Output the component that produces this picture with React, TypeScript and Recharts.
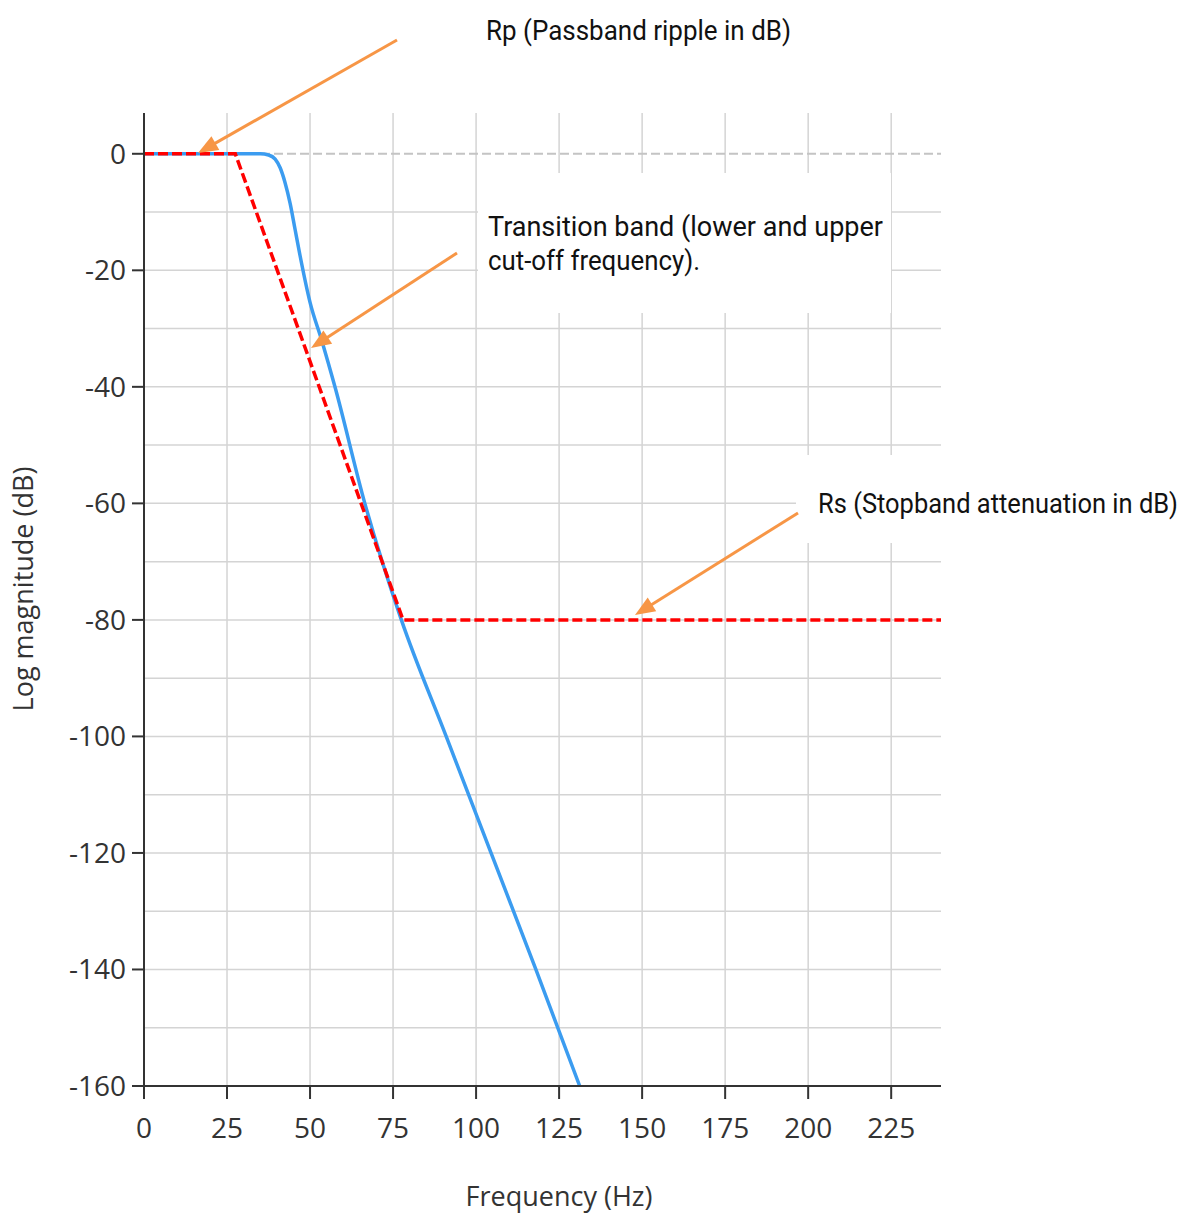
import React from 'react';
import { LineChart, Line, XAxis, YAxis, ReferenceLine } from 'recharts';

// ---- data ----
const frequencyTicks = [0, 25, 50, 75, 100, 125, 150, 175, 200, 225];
const magnitudeTicks = [0, -20, -40, -60, -80, -100, -120, -140, -160];
const minorGridValues = [-10, -20, -30, -40, -50, -60, -70, -80, -90, -100, -110, -120, -130, -140, -150];

// filter response (blue)
const responseFreq = [0, 30, 35, 37.5, 39.5, 41, 42.5, 44, 45.5, 47, 50, 53.5, 57.5, 66.5, 77.5, 91, 104.5, 118, 131.2];
const responseMag = [0, 0, 0, -0.2, -0.9, -2.4, -5, -8.5, -13, -17.5, -25.5, -32, -40, -60, -80, -100, -120, -140, -160];

// specification mask (red dashed)
const specFreq = [0, 27.5, 78, 240];
const specMag = [0, 0, -80, -80];

const responseData = responseFreq.map((f, i) => ({ f, db: responseMag[i] }));
const specData = specFreq.map((f, i) => ({ f, db: specMag[i] }));

const ORANGE = '#F79646';
const CONDENSE = 0.91;

function Arrow({ x1, y1, x2, y2 }: { x1: number; y1: number; x2: number; y2: number }) {
  const dx = x2 - x1;
  const dy = y2 - y1;
  const len = Math.sqrt(dx * dx + dy * dy);
  const ux = dx / len;
  const uy = dy / len;
  const headLen = 20;
  const headHalf = 8;
  const bx = x2 - ux * headLen;
  const by = y2 - uy * headLen;
  const px = -uy;
  const py = ux;
  const pts = `${x2},${y2} ${bx + px * headHalf},${by + py * headHalf} ${bx - px * headHalf},${by - py * headHalf}`;
  return (
    <g>
      <line x1={x1} y1={y1} x2={bx + ux * 2} y2={by + uy * 2} stroke={ORANGE} strokeWidth={3} />
      <polygon points={pts} fill={ORANGE} />
    </g>
  );
}

function AnnText({ x, y, w, children }: { x: number; y: number; w: number; children: string }) {
  return (
    <text
      transform={`translate(${x},${y}) scale(${CONDENSE},1)`}
      x={0}
      y={0}
      textLength={w / CONDENSE}
      lengthAdjust="spacingAndGlyphs"
      fontFamily="Roboto"
      fontSize={28}
      fill="#111"
    >
      {children}
    </text>
  );
}

export default function App() {
  const tickStyle = { fill: '#333', fontSize: 28, fontFamily: 'Open Sans' };
  return (
    <div style={{ position: 'absolute', left: 0, top: 0, width: 1189, height: 1215, background: '#fff' }}>
      <LineChart width={1189} height={1215} margin={{ top: 113, right: 248, bottom: 0, left: 0 }}>
        <XAxis
          type="number"
          dataKey="f"
          domain={[0, 240]}
          ticks={frequencyTicks}
          interval={0}
          allowDataOverflow
          height={129}
          tickSize={13}
          tickMargin={19}
          axisLine={{ stroke: '#333', strokeWidth: 2 }}
          tickLine={{ stroke: '#333', strokeWidth: 2 }}
          tick={tickStyle}
        />
        <YAxis
          type="number"
          dataKey="db"
          domain={[-160, 7]}
          ticks={magnitudeTicks}
          interval={0}
          allowDataOverflow
          width={144}
          tickSize={12}
          tickMargin={6}
          axisLine={{ stroke: '#333', strokeWidth: 2 }}
          tickLine={{ stroke: '#333', strokeWidth: 2 }}
          tick={tickStyle}
        />
        {frequencyTicks.slice(1).map((v) => (
          <ReferenceLine key={'vx' + v} x={v} stroke="#d4d4d4" strokeWidth={1.5} />
        ))}
        {minorGridValues.map((v) => (
          <ReferenceLine key={'hy' + v} y={v} stroke="#d4d4d4" strokeWidth={1.5} />
        ))}
        <ReferenceLine y={0} stroke="#c4c4c4" strokeWidth={2} strokeDasharray="9 4" />
        <Line
          data={responseData}
          dataKey="db"
          type="monotone"
          stroke="#3b9cf0"
          strokeWidth={3.5}
          dot={false}
          isAnimationActive={false}
        />
        <Line
          data={specData}
          dataKey="db"
          type="linear"
          stroke="#ff0000"
          strokeWidth={3.5}
          strokeDasharray="10 4"
          dot={false}
          isAnimationActive={false}
        />
      </LineChart>
      <svg
        width={1189}
        height={1215}
        style={{ position: 'absolute', left: 0, top: 0, pointerEvents: 'none' }}
      >
        <rect x={478} y={173} width={413} height={140} fill="#fff" />
        <rect x={796} y={455} width={393} height={88} fill="#fff" />
        <AnnText x={486} y={40} w={305}>Rp (Passband ripple in dB)</AnnText>
        <AnnText x={488} y={236} w={395}>Transition band (lower and upper</AnnText>
        <AnnText x={488} y={270} w={212}>cut-off frequency).</AnnText>
        <AnnText x={818} y={513} w={360}>Rs (Stopband attenuation in dB)</AnnText>
        <Arrow x1={397} y1={40} x2={198} y2={153} />
        <Arrow x1={457} y1={253} x2={311} y2={348} />
        <Arrow x1={798} y1={513} x2={635} y2={615} />
        <text x={559} y={1206} textAnchor="middle" fontFamily="Open Sans" fontSize={27} fill="#333">
          Frequency (Hz)
        </text>
        <text
          x={33}
          y={589}
          textAnchor="middle"
          fontFamily="Open Sans"
          fontSize={27}
          fill="#333"
          transform="rotate(-90 33 589)"
        >
          Log magnitude (dB)
        </text>
      </svg>
    </div>
  );
}
